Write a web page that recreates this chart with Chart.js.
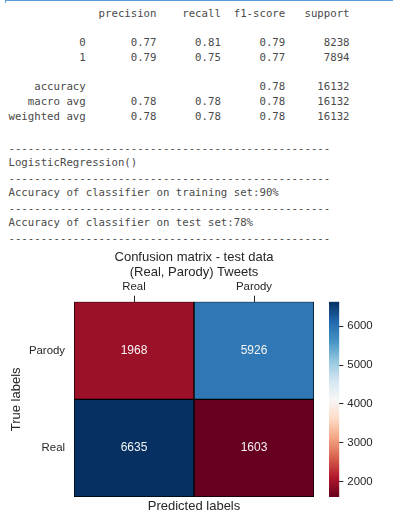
<!DOCTYPE html>
<html><head><meta charset="utf-8">
<script src="https://cdn.jsdelivr.net/npm/chart.js@4.4.1/dist/chart.umd.min.js"></script>
<style>
html,body{margin:0;padding:0;background:#fff;width:393px;height:530px;overflow:hidden;}
body{position:relative;}
.t{position:absolute;left:8.5px;font-family:"DejaVu Sans Mono",monospace;font-size:10.7px;line-height:12px;height:12px;white-space:pre;color:#4a4a4a;margin:0;}
#topline{position:absolute;left:5px;right:0;top:0;height:1px;background:#5b9bd5;}
#leftline{position:absolute;left:5px;top:0;width:1px;height:3px;background:#5b9bd5;}
#c1{position:absolute;left:0;top:250px;}
#c2{position:absolute;left:320px;top:250px;}
</style></head>
<body>
<div id="topline"></div><div id="leftline"></div>
<div id="report"></div>
<canvas id="c1" width="320" height="280"></canvas>
<canvas id="c2" width="73" height="280"></canvas>
<script>
// ---- data ----
const reportHeaders = ['precision', 'recall', 'f1-score', 'support'];
const reportClassRows = [['0', 0.77, 0.81, 0.79, 8238], ['1', 0.79, 0.75, 0.77, 7894]];
const reportAccuracy = [0.78, 16132];
const reportAvgRows = [['macro avg', 0.78, 0.78, 0.78, 16132], ['weighted avg', 0.78, 0.78, 0.78, 16132]];
const logLines = ['LogisticRegression()', 'Accuracy of classifier on training set:90%', 'Accuracy of classifier on test set:78%'];

const predictedLabels = ['Real', 'Parody'];
const trueLabels = ['Parody', 'Real'];          // rows, top to bottom
const countsParodyRow = [1968, 5926];
const countsRealRow = [6635, 1603];
const colorbarTicks = [2000, 3000, 4000, 5000, 6000];
const titleLines = ['Confusion matrix - test data', '(Real, Parody) Tweets'];

// ---- text report ----
(function(){
  const W = 12, STEP = 14.67, Y0 = 15;
  const lines = [];
  const pad = (s, n) => String(s).padStart(n);
  lines.push([Y0, pad('', W) + ' ' + reportHeaders.map(h => ' ' + pad(h, 9)).join('')]);
  reportClassRows.forEach((r, i) => {
    lines.push([Y0 + STEP * (2 + i), pad(r[0], W) + ' ' + r.slice(1, 4).map(v => ' ' + pad(v.toFixed(2), 9)).join('') + ' ' + pad(r[4], 9)]);
  });
  lines.push([Y0 + STEP * 5, pad('accuracy', W) + ' ' + ' ' + pad('', 9) + ' ' + pad('', 9) + ' ' + pad(reportAccuracy[0].toFixed(2), 9) + ' ' + pad(reportAccuracy[1], 9)]);
  reportAvgRows.forEach((r, i) => {
    lines.push([Y0 + STEP * (6 + i), pad(r[0], W) + ' ' + r.slice(1, 4).map(v => ' ' + pad(v.toFixed(2), 9)).join('') + ' ' + pad(r[4], 9)]);
  });
  const dash = '-'.repeat(50);
  let y = 149.5;
  lines.push([y + 0.5, dash]);
  logLines.forEach(l => { y += 15; lines.push([y - 0.5, l]); y += 15; lines.push([y + 0.5, dash]); });
  const host = document.getElementById('report');
  lines.forEach(([cy, txt]) => {
    const d = document.createElement('div');
    d.className = 't';
    d.style.top = (cy - 7) + 'px';
    d.textContent = txt;
    host.appendChild(d);
  });
})();

// ---- colormap (RdBu) ----
const RDBU = ['#67001f','#b2182b','#d6604d','#f4a582','#fddbc7','#f7f7f7','#d1e5f0','#92c5de','#4393c3','#2166ac','#053061'];
function hexToRgb(h){ return [1,3,5].map(i => parseInt(h.substr(i, 2), 16)); }
function rdbu(t){
  t = Math.max(0, Math.min(1, t));
  const p = t * 10, i = Math.min(9, Math.floor(p)), f = p - i;
  const a = hexToRgb(RDBU[i]), b = hexToRgb(RDBU[i + 1]);
  return 'rgb(' + a.map((v, k) => Math.round(v + (b[k] - v) * f)).join(',') + ')';
}
const allCounts = countsParodyRow.concat(countsRealRow);
const vmin = Math.min(...allCounts), vmax = Math.max(...allCounts);
const rowsByLabel = { Parody: countsParodyRow, Real: countsRealRow };

Chart.defaults.font.family = '"Liberation Sans", Arial, sans-serif';
Chart.defaults.color = '#262626';

const datasets = trueLabels.slice().reverse().map(lbl => {
  const counts = rowsByLabel[lbl];
  return {
    label: lbl,
    counts: counts,
    data: counts.map(() => 1),
    backgroundColor: counts.map(v => rdbu((v - vmin) / (vmax - vmin))),
    borderColor: '#000',
    borderWidth: 1,
    borderSkipped: false,
    barPercentage: 1,
    categoryPercentage: 1
  };
});

const annotate = {
  id: 'annotate',
  afterDatasetsDraw(chart){
    const ctx = chart.ctx;
    ctx.save();
    ctx.font = '12px "Liberation Sans", Arial, sans-serif';
    ctx.fillStyle = '#f4f4f4';
    ctx.textAlign = 'center';
    ctx.textBaseline = 'middle';
    chart.data.datasets.forEach((ds, di) => {
      chart.getDatasetMeta(di).data.forEach((el, i) => {
        ctx.fillText(String(ds.counts[i]), el.x, (el.y + el.base) / 2);
      });
    });
    ctx.restore();
  }
};

new Chart(document.getElementById('c1'), {
  type: 'bar',
  data: { labels: predictedLabels, datasets: datasets },
  plugins: [annotate],
  options: {
    responsive: false, animation: false,
    layout: { padding: { left: 0, right: 6, top: 0, bottom: 0 } },
    plugins: {
      legend: { display: false }, tooltip: { enabled: false },
      title: { display: true, text: titleLines, fullSize: false, color: '#262626',
               font: { size: 13, weight: 'normal', lineHeight: 15 / 13 }, padding: { top: 0, bottom: 0 } }
    },
    scales: {
      x: { type: 'category', position: 'top', stacked: true, offset: true,
           grid: { display: true, drawOnChartArea: false, drawTicks: true, offset: false, tickLength: 6, color: '#262626', lineWidth: 1 },
           border: { display: false },
           ticks: { color: '#262626', font: { size: 11.4 }, padding: 2, maxRotation: 0 },
           afterFit(s){ s.height = 21.7; } },
      x2: { type: 'category', position: 'bottom',
            grid: { display: false, drawTicks: false }, border: { display: false },
            ticks: { display: false },
            title: { display: true, text: 'Predicted labels', color: '#262626', font: { size: 13 }, padding: { top: 2, bottom: 15.5 } },
            afterFit(s){ s.height = 33; } },
      y: { type: 'linear', stacked: true, min: 0, max: trueLabels.length, position: 'left',
           grid: { display: false, drawTicks: false }, border: { display: false },
           afterBuildTicks(s){ s.ticks = trueLabels.map((_, i) => ({ value: trueLabels.length - 0.5 - i })); },
           ticks: { color: '#262626', font: { size: 11.4 }, padding: 9,
                    callback(v){ return trueLabels[Math.round(trueLabels.length - 0.5 - v)]; } },
           title: { display: true, text: 'True labels', color: '#262626', font: { size: 13 }, padding: { top: 8.2, bottom: 0 } },
           afterFit(s){ s.width = 74; } }
    }
  }
});

new Chart(document.getElementById('c2'), {
  type: 'bar',
  data: { labels: [''], datasets: [{
    data: [[vmin, vmax]],
    backgroundColor(ctx){
      const ch = ctx.chart, y = ch.scales.y;
      if (!y || !ch.chartArea) return RDBU[5];
      const g = ch.ctx.createLinearGradient(0, y.getPixelForValue(vmin), 0, y.getPixelForValue(vmax));
      RDBU.forEach((c, i) => g.addColorStop(i / (RDBU.length - 1), c));
      return g;
    },
    borderWidth: 0, barPercentage: 1, categoryPercentage: 1
  }]},
  options: {
    responsive: false, animation: false,
    layout: { padding: { left: 9, right: 0, top: 51.7, bottom: 33 } },
    plugins: { legend: { display: false }, tooltip: { enabled: false } },
    scales: {
      x: { display: false },
      y: { position: 'right', min: vmin, max: vmax,
           afterBuildTicks(s){ s.ticks = colorbarTicks.map(v => ({ value: v })); },
           grid: { display: true, drawOnChartArea: false, drawTicks: true, tickLength: 4, color: '#262626' },
           border: { display: false },
           ticks: { color: '#262626', font: { size: 11.4 }, padding: 4, callback(v){ return String(v); } },
           afterFit(s){ s.width = 73 - 19.3; } }
    }
  }
});
</script>
</body></html>
